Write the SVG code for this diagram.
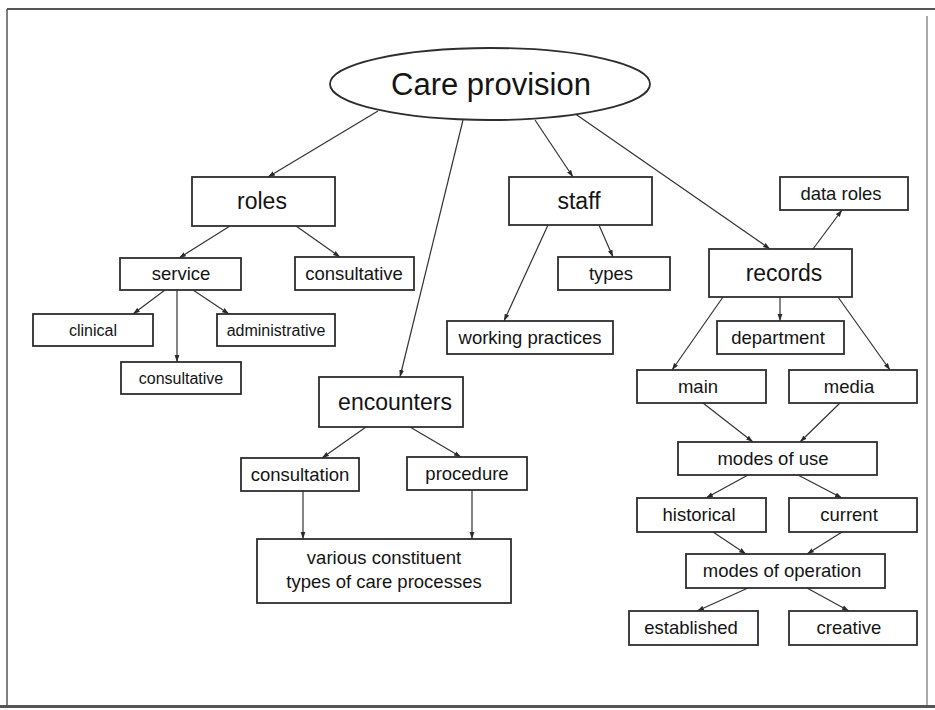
<svg xmlns="http://www.w3.org/2000/svg" width="935" height="710" viewBox="0 0 935 710">
  <defs>
    <marker id="arrow" markerUnits="userSpaceOnUse" markerWidth="8" markerHeight="6" refX="7" refY="3" orient="auto">
      <path d="M0,0.6 L7,3 L0,5.4 z" fill="#2a2a2a"/>
    </marker>
  </defs>
  <style>
    .box { fill: #ffffff; stroke: #2e2e2e; stroke-width: 1.8; }
    .conn line { stroke: #333333; stroke-width: 1.2; marker-end: url(#arrow); }
    text { font-family: "Liberation Sans", Arial, sans-serif; fill: #141414; text-anchor: middle; }
    .big { font-size: 23px; }
    .mid { font-size: 18.5px; }
    .small { font-size: 16px; }
    .frame { fill: none; stroke: #555555; }
  </style>

  <!-- page background and frame -->
  <rect x="0" y="0" width="935" height="710" fill="#ffffff"/>
  <line class="frame" x1="7" y1="9" x2="935" y2="9" stroke-width="2"/>
  <line class="frame" x1="7" y1="9" x2="7" y2="706" stroke-width="1.5"/>
  <line class="frame" x1="927" y1="16" x2="927" y2="706" stroke-width="1" stroke="#cccccc"/>
  <line class="frame" x1="0" y1="706.5" x2="935" y2="706.5" stroke-width="3" stroke="#333333"/>

  <!-- connectors -->
  <g id="connectors" class="conn">
    <line x1="378" y1="111" x2="268" y2="177"/>
    <line x1="463" y1="120" x2="400" y2="377"/>
    <line x1="535" y1="120" x2="573" y2="177"/>
    <line x1="574" y1="113" x2="770" y2="249"/>
    <line x1="230" y1="226" x2="179" y2="258"/>
    <line x1="296" y1="226" x2="340" y2="257"/>
    <line x1="165" y1="290" x2="133" y2="314"/>
    <line x1="177" y1="290" x2="177" y2="362"/>
    <line x1="193" y1="290" x2="229" y2="314"/>
    <line x1="548" y1="225" x2="504" y2="321"/>
    <line x1="599" y1="225" x2="613" y2="257"/>
    <line x1="813" y1="249" x2="842" y2="210"/>
    <line x1="780" y1="297" x2="780" y2="321"/>
    <line x1="723" y1="297" x2="672" y2="370"/>
    <line x1="838" y1="297" x2="890" y2="370"/>
    <line x1="366" y1="427" x2="322" y2="458"/>
    <line x1="410" y1="427" x2="461" y2="457"/>
    <line x1="303" y1="491" x2="303" y2="539"/>
    <line x1="472" y1="490" x2="472" y2="539"/>
    <line x1="703" y1="403" x2="753" y2="442"/>
    <line x1="840" y1="403" x2="800" y2="442"/>
    <line x1="748" y1="475" x2="706" y2="498"/>
    <line x1="798" y1="475" x2="842" y2="498"/>
    <line x1="713" y1="532" x2="746" y2="554"/>
    <line x1="842" y1="532" x2="807" y2="554"/>
    <line x1="748" y1="588" x2="697" y2="611"/>
    <line x1="807" y1="588" x2="849" y2="611"/>
  </g>

  <!-- root -->
  <g id="care-provision">
    <ellipse cx="490" cy="84" rx="160" ry="36" class="box"/>
    <text x="491" y="95" style="font-size:31px">Care provision</text>
  </g>

  <!-- roles branch -->
  <g id="roles">
    <rect class="box" x="192" y="177" width="143" height="49"/>
    <text class="big" x="262" y="209">roles</text>
  </g>
  <g id="service">
    <rect class="box" x="120" y="258" width="121" height="32"/>
    <text class="mid" x="181" y="280">service</text>
  </g>
  <g id="roles-consultative">
    <rect class="box" x="295" y="257" width="119" height="33"/>
    <text class="mid" x="354" y="280">consultative</text>
  </g>
  <g id="clinical">
    <rect class="box" x="33" y="314" width="120" height="32"/>
    <text class="small" x="93" y="336">clinical</text>
  </g>
  <g id="administrative">
    <rect class="box" x="217" y="314" width="118" height="32"/>
    <text class="small" x="276" y="336">administrative</text>
  </g>
  <g id="service-consultative">
    <rect class="box" x="121" y="362" width="120" height="32"/>
    <text class="small" x="181" y="384">consultative</text>
  </g>

  <!-- staff branch -->
  <g id="staff">
    <rect class="box" x="509" y="177" width="143" height="48"/>
    <text class="big" x="579" y="209">staff</text>
  </g>
  <g id="types">
    <rect class="box" x="558" y="257" width="112" height="33"/>
    <text class="mid" x="611" y="280">types</text>
  </g>
  <g id="working-practices">
    <rect class="box" x="447" y="321" width="166" height="33"/>
    <text class="mid" x="530" y="344">working practices</text>
  </g>

  <!-- encounters branch -->
  <g id="encounters">
    <rect class="box" x="319" y="377" width="144" height="50"/>
    <text class="big" x="395" y="410">encounters</text>
  </g>
  <g id="consultation">
    <rect class="box" x="241" y="458" width="118" height="33"/>
    <text class="mid" x="300" y="481">consultation</text>
  </g>
  <g id="procedure">
    <rect class="box" x="407" y="457" width="120" height="33"/>
    <text class="mid" x="467" y="480">procedure</text>
  </g>
  <g id="care-processes">
    <rect class="box" x="257" y="539" width="254" height="64"/>
    <text class="mid" x="384" y="564">various constituent</text>
    <text class="mid" x="384" y="588">types of care processes</text>
  </g>

  <!-- records branch -->
  <g id="records">
    <rect class="box" x="709" y="249" width="143" height="48"/>
    <text class="big" x="784" y="281">records</text>
  </g>
  <g id="data-roles">
    <rect class="box" x="780" y="177" width="128" height="33"/>
    <text class="mid" x="841" y="200">data roles</text>
  </g>
  <g id="department">
    <rect class="box" x="717" y="321" width="127" height="33"/>
    <text class="mid" x="778" y="344">department</text>
  </g>
  <g id="main">
    <rect class="box" x="637" y="370" width="129" height="33"/>
    <text class="mid" x="698" y="393">main</text>
  </g>
  <g id="media">
    <rect class="box" x="789" y="370" width="128" height="33"/>
    <text class="mid" x="849" y="393">media</text>
  </g>
  <g id="modes-of-use">
    <rect class="box" x="678" y="442" width="199" height="33"/>
    <text class="mid" x="773" y="465">modes of use</text>
  </g>
  <g id="historical">
    <rect class="box" x="637" y="498" width="129" height="34"/>
    <text class="mid" x="699" y="521">historical</text>
  </g>
  <g id="current">
    <rect class="box" x="789" y="498" width="128" height="34"/>
    <text class="mid" x="849" y="521">current</text>
  </g>
  <g id="modes-of-operation">
    <rect class="box" x="686" y="554" width="199" height="34"/>
    <text class="mid" x="782" y="577">modes of operation</text>
  </g>
  <g id="established">
    <rect class="box" x="629" y="611" width="129" height="34"/>
    <text class="mid" x="691" y="634">established</text>
  </g>
  <g id="creative">
    <rect class="box" x="789" y="611" width="128" height="34"/>
    <text class="mid" x="849" y="634">creative</text>
  </g>
</svg>
